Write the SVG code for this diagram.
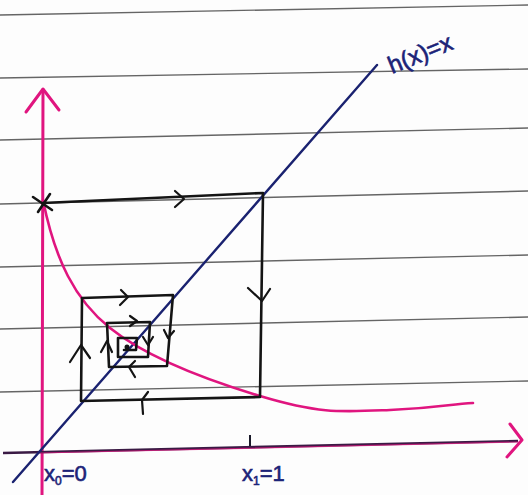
<svg xmlns="http://www.w3.org/2000/svg" width="528" height="495" viewBox="0 0 528 495">
  <style>
    .rule { stroke: #4a4a4a; stroke-width: 1.4; fill: none; opacity: 0.85; }
    .ink { stroke: #141414; stroke-width: 2.6; fill: none; stroke-linecap: round; stroke-linejoin: round; }
    .arrow { stroke: #141414; stroke-width: 2.2; fill: none; stroke-linecap: round; stroke-linejoin: round; }
    .pink { stroke: #e0157f; fill: none; stroke-linecap: round; stroke-linejoin: round; }
    .blue { stroke: #1a2270; fill: none; stroke-linecap: round; }
    .lbl { font-family: "Liberation Sans", Arial, sans-serif; fill: #1c2378; stroke: #1c2378; stroke-width: 0.6; }
  </style>
  <rect width="528" height="495" fill="#fdfdfd"/>

  <g id="paper-lines">
    <path class="rule" d="M0,15 L528,5"/>
    <path class="rule" d="M0,78 L528,69"/>
    <path class="rule" d="M0,140 L528,128"/>
    <path class="rule" d="M0,204 L528,191"/>
    <path class="rule" d="M0,267 L528,255"/>
    <path class="rule" d="M0,329 L528,317"/>
    <path class="rule" d="M0,392 L528,381"/>
  </g>

  <g id="y-axis">
    <path class="pink" stroke-width="3" d="M43,90 L42,495"/>
    <path class="pink" stroke-width="3" d="M26,112 L43,89 L59,110"/>
  </g>

  <g id="x-axis">
    <path stroke="#3a1a44" stroke-width="2.6" fill="none" d="M3,453 L518,441"/>
    <path class="pink" stroke-width="1.2" opacity="0.7" d="M40,453 L518,442"/>
    <path class="pink" stroke-width="3" d="M510,424 L522,440 L507,457"/>
    <path stroke="#1a1a2a" stroke-width="2" d="M250,435 L250,446"/>
  </g>

  <g id="diagonal">
    <path class="blue" stroke-width="2.4" d="M13,482 L377,65"/>
  </g>

  <g id="curve">
    <path class="pink" stroke-width="2.6" d="M43,200 C55,260 75,300 110,328 S200,378 260,396 S340,412 390,410 S450,404 473,403"/>
  </g>

  <g id="cobweb">
    <path class="ink" d="M33,197 L52,210 M50,194 L38,212"/>
    <path class="ink" d="M43,203 L263,193 L260,397 L81,401 L82,298 L173,295 L167,366 L109,367 L107,323 L150,322 L148,357 L118,357 L118,338 L137,338 L136,350 L124,350"/>
    <circle cx="127" cy="347" r="2.5" fill="#141414"/>
    <path class="arrow" d="M175,191 L184,199 L175,207"/>
    <path class="arrow" d="M248,288 L262,301 L270,289"/>
    <path class="arrow" d="M148,392 L142,400 L143,414"/>
    <path class="arrow" d="M70,362 L81,345 L90,358"/>
    <path class="arrow" d="M121,290 L128,297 L120,305"/>
    <path class="arrow" d="M164,330 L168,338 L174,331"/>
    <path class="arrow" d="M130,316 L137,321 L130,326"/>
    <path class="arrow" d="M101,352 L107,341 L112,352"/>
    <path class="arrow" d="M143,337 L148,345 L153,337"/>
    <path class="arrow" d="M135,361 L129,367 L135,377"/>
  </g>

  <g id="labels">
    <text class="lbl" font-size="24" transform="translate(392,74) rotate(-22)">h(x)=x</text>
    <text class="lbl" font-size="22" x="44" y="481">x<tspan font-size="12" dy="4">0</tspan><tspan dy="-4">=0</tspan></text>
    <text class="lbl" font-size="22" x="242" y="481">x<tspan font-size="12" dy="4">1</tspan><tspan dy="-4">=1</tspan></text>
  </g>
</svg>
